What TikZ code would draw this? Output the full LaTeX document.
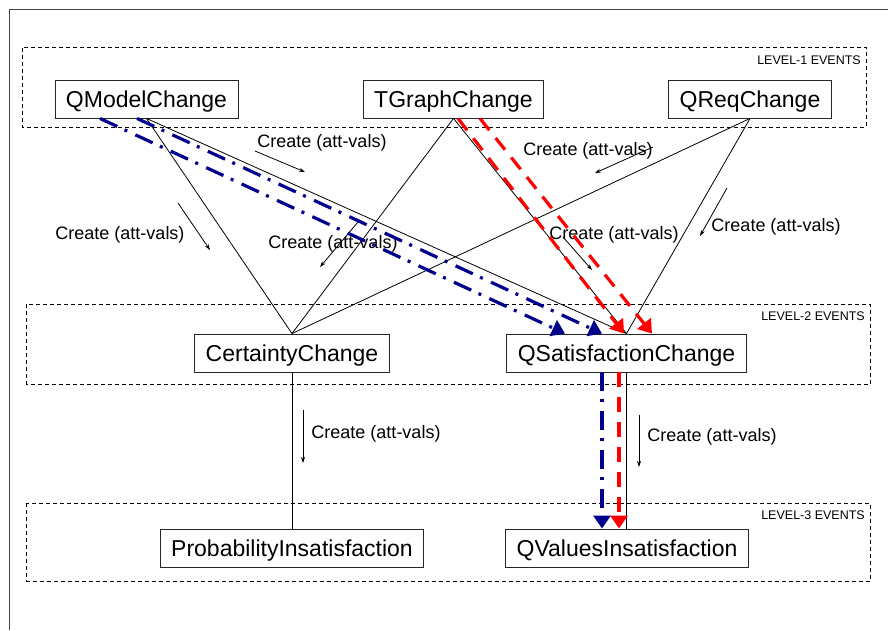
\documentclass[tikz,border=0pt]{standalone}
\usepackage{fontspec}
\setmainfont{Liberation Sans}
\usetikzlibrary{arrows.meta}
\definecolor{navyline}{RGB}{0,0,140}
\definecolor{redline}{RGB}{255,0,0}
\definecolor{framegray}{RGB}{70,70,70}
\begin{document}
\begin{tikzpicture}[x=1pt,y=-1pt,
  event/.style={draw=black!85, line width=0.9pt, inner xsep=11pt, inner ysep=0pt,
    minimum height=38pt, text height=16.8pt, text depth=0pt,
    font=\fontsize{23}{27}\selectfont},
  levelbox/.style={draw, dash pattern=on 4pt off 3pt, line width=0.8pt},
  levellabel/.style={font=\fontsize{12.5}{14}\selectfont, anchor=north east, inner sep=0pt},
  link/.style={line width=0.8pt},
  createlbl/.style={font=\fontsize{18}{21}\selectfont, inner sep=0pt},
  hint/.style={-{Stealth[length=6pt,width=4pt]}, line width=0.8pt},
  blueflow/.style={navyline, line width=3.2pt, dash pattern=on 19pt off 8pt on 3pt off 9pt,
    -{Triangle[length=13pt,width=17pt]}},
  redflow/.style={redline, line width=3.2pt, dash pattern=on 15pt off 10pt,
    -{Triangle[length=13pt,width=17pt]}},
]
\useasboundingbox (0,0) rectangle (888,630);

% outer frame
\draw[framegray, line width=1.3pt] (9.5,630) -- (9.5,9.5) -- (888,9.5);

% level groups
\draw[levelbox] (22.7,47.7) rectangle (866.7,127);
\draw[levelbox] (26.5,304) rectangle (870,384);
\draw[levelbox] (26.5,503) rectangle (870,581);
\node[levellabel] (lv1) at (861,56) {LEVEL-1 EVENTS};
\node[levellabel] (lv2) at (865,312) {LEVEL-2 EVENTS};
\node[levellabel] (lv3) at (865,511) {LEVEL-3 EVENTS};

% events
\node[event] (qm) at (146.5,99) {QModelChange};
\node[event] (tg) at (453.5,99) {TGraphChange};
\node[event] (qr) at (750,99) {QReqChange};
\node[event] (cc) at (292,353) {CertaintyChange};
\node[event] (qs) at (626.5,353) {QSatisfactionChange};
\node[event] (pi) at (292,548) {ProbabilityInsatisfaction};
\node[event] (qv) at (627,548) {QValuesInsatisfaction};

% creation links
\draw[link] (qm.south) -- (cc.north);
\draw[link] (qm.south) -- (qs.north);
\draw[link] (tg.south) -- (cc.north);
\draw[link] (tg.south) -- (qs.north);
\draw[link] (qr.south) -- (cc.north);
\draw[link] (qr.south) -- (qs.north);
\draw[link] (cc.south) -- (pi.north);
\draw[link] (qs.south) -- (qs.south |- qv.north);

% link labels with direction hints
\node[createlbl] (la) at (322,143) {Create (att-vals)};
\node[createlbl] (lb) at (120,235) {Create (att-vals)};
\node[createlbl] (lc) at (333,244) {Create (att-vals)};
\node[createlbl] (ld) at (588,151) {Create (att-vals)};
\node[createlbl] (le) at (776,227) {Create (att-vals)};
\node[createlbl] (lf) at (614,235) {Create (att-vals)};
\node[createlbl] (lg) at (376,434) {Create (att-vals)};
\node[createlbl] (lh) at (712,437) {Create (att-vals)};
\coordinate (a1) at (255,151); \coordinate (a2) at (305,172);
\coordinate (b1) at (178,203); \coordinate (b2) at (210,250);
\coordinate (c1) at (358,222); \coordinate (c2) at (320,267);
\coordinate (d1) at (653,147); \coordinate (d2) at (595,173);
\coordinate (e1) at (727,188); \coordinate (e2) at (700,236);
\coordinate (f1) at (563,237); \coordinate (f2) at (592,270);
\coordinate (g1) at (303,410); \coordinate (g2) at (303,463);
\coordinate (h1) at (639,415); \coordinate (h2) at (639,467);
\draw[hint] (a1) -- (a2);
\draw[hint] (b1) -- (b2);
\draw[hint] (c1) -- (c2);
\draw[hint] (d1) -- (d2);
\draw[hint] (e1) -- (e2);
\draw[hint] (f1) -- (f2);
\draw[hint] (g1) -- (g2);
\draw[hint] (h1) -- (h2);

% propagation paths
\draw[blueflow] ([xshift=-46.5pt]qm.south) -- ([xshift=-61.5pt]qs.north);
\draw[blueflow] ([xshift=-9.5pt]qm.south) -- ([xshift=-24.5pt]qs.north);
\draw[redflow] ([xshift=4.5pt]tg.south) -- ([xshift=-2.5pt]qs.north);
\draw[redflow] ([xshift=26.5pt]tg.south) -- ([xshift=25.5pt]qs.north);
\draw[blueflow] ([xshift=-24.5pt]qs.south) -- ([xshift=-24.5pt]qs.south |- qv.north);
\draw[redflow] ([xshift=-7.5pt]qs.south) -- ([xshift=-7.5pt]qs.south |- qv.north);
\end{tikzpicture}
\end{document}
